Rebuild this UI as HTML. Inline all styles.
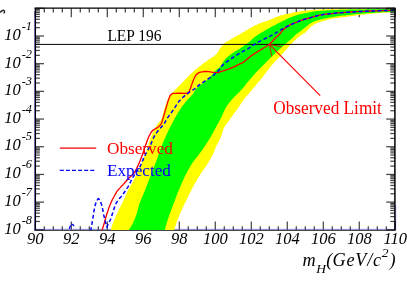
<!DOCTYPE html>
<html><head><meta charset="utf-8"><title>plot</title>
<style>
html,body{margin:0;padding:0;background:#fff;}
body{width:407px;height:285px;position:relative;overflow:hidden;}
#w{position:absolute;left:0;top:0;width:407px;height:285px;will-change:transform;}
svg{display:block}
text{font-family:"Liberation Serif",serif;}
</style></head><body>
<div id="w">
<svg width="407" height="285" viewBox="0 0 407 285">
<rect width="407" height="285" fill="#fff"/>
<line x1="35.30" y1="229.80" x2="35.30" y2="221.40" stroke="#000" stroke-width="1.25" opacity="0.72"/>
<line x1="35.30" y1="8.30" x2="35.30" y2="17.30" stroke="#000" stroke-width="1.25" opacity="0.72"/>
<line x1="44.30" y1="229.80" x2="44.30" y2="226.20" stroke="#000" stroke-width="1.25" opacity="0.72"/>
<line x1="44.30" y1="8.30" x2="44.30" y2="12.50" stroke="#000" stroke-width="1.25" opacity="0.72"/>
<line x1="53.30" y1="229.80" x2="53.30" y2="226.20" stroke="#000" stroke-width="1.25" opacity="0.72"/>
<line x1="53.30" y1="8.30" x2="53.30" y2="12.50" stroke="#000" stroke-width="1.25" opacity="0.72"/>
<line x1="62.30" y1="229.80" x2="62.30" y2="226.20" stroke="#000" stroke-width="1.25" opacity="0.72"/>
<line x1="62.30" y1="8.30" x2="62.30" y2="12.50" stroke="#000" stroke-width="1.25" opacity="0.72"/>
<line x1="71.30" y1="229.80" x2="71.30" y2="221.40" stroke="#000" stroke-width="1.25" opacity="0.72"/>
<line x1="71.30" y1="8.30" x2="71.30" y2="17.30" stroke="#000" stroke-width="1.25" opacity="0.72"/>
<line x1="80.30" y1="229.80" x2="80.30" y2="226.20" stroke="#000" stroke-width="1.25" opacity="0.72"/>
<line x1="80.30" y1="8.30" x2="80.30" y2="12.50" stroke="#000" stroke-width="1.25" opacity="0.72"/>
<line x1="89.30" y1="229.80" x2="89.30" y2="226.20" stroke="#000" stroke-width="1.25" opacity="0.72"/>
<line x1="89.30" y1="8.30" x2="89.30" y2="12.50" stroke="#000" stroke-width="1.25" opacity="0.72"/>
<line x1="98.30" y1="229.80" x2="98.30" y2="226.20" stroke="#000" stroke-width="1.25" opacity="0.72"/>
<line x1="98.30" y1="8.30" x2="98.30" y2="12.50" stroke="#000" stroke-width="1.25" opacity="0.72"/>
<line x1="107.30" y1="229.80" x2="107.30" y2="221.40" stroke="#000" stroke-width="1.25" opacity="0.72"/>
<line x1="107.30" y1="8.30" x2="107.30" y2="17.30" stroke="#000" stroke-width="1.25" opacity="0.72"/>
<line x1="116.30" y1="229.80" x2="116.30" y2="226.20" stroke="#000" stroke-width="1.25" opacity="0.72"/>
<line x1="116.30" y1="8.30" x2="116.30" y2="12.50" stroke="#000" stroke-width="1.25" opacity="0.72"/>
<line x1="125.30" y1="229.80" x2="125.30" y2="226.20" stroke="#000" stroke-width="1.25" opacity="0.72"/>
<line x1="125.30" y1="8.30" x2="125.30" y2="12.50" stroke="#000" stroke-width="1.25" opacity="0.72"/>
<line x1="134.30" y1="229.80" x2="134.30" y2="226.20" stroke="#000" stroke-width="1.25" opacity="0.72"/>
<line x1="134.30" y1="8.30" x2="134.30" y2="12.50" stroke="#000" stroke-width="1.25" opacity="0.72"/>
<line x1="143.30" y1="229.80" x2="143.30" y2="221.40" stroke="#000" stroke-width="1.25" opacity="0.72"/>
<line x1="143.30" y1="8.30" x2="143.30" y2="17.30" stroke="#000" stroke-width="1.25" opacity="0.72"/>
<line x1="152.30" y1="229.80" x2="152.30" y2="226.20" stroke="#000" stroke-width="1.25" opacity="0.72"/>
<line x1="152.30" y1="8.30" x2="152.30" y2="12.50" stroke="#000" stroke-width="1.25" opacity="0.72"/>
<line x1="161.30" y1="229.80" x2="161.30" y2="226.20" stroke="#000" stroke-width="1.25" opacity="0.72"/>
<line x1="161.30" y1="8.30" x2="161.30" y2="12.50" stroke="#000" stroke-width="1.25" opacity="0.72"/>
<line x1="170.30" y1="229.80" x2="170.30" y2="226.20" stroke="#000" stroke-width="1.25" opacity="0.72"/>
<line x1="170.30" y1="8.30" x2="170.30" y2="12.50" stroke="#000" stroke-width="1.25" opacity="0.72"/>
<line x1="179.30" y1="229.80" x2="179.30" y2="221.40" stroke="#000" stroke-width="1.25" opacity="0.72"/>
<line x1="179.30" y1="8.30" x2="179.30" y2="17.30" stroke="#000" stroke-width="1.25" opacity="0.72"/>
<line x1="188.30" y1="229.80" x2="188.30" y2="226.20" stroke="#000" stroke-width="1.25" opacity="0.72"/>
<line x1="188.30" y1="8.30" x2="188.30" y2="12.50" stroke="#000" stroke-width="1.25" opacity="0.72"/>
<line x1="197.30" y1="229.80" x2="197.30" y2="226.20" stroke="#000" stroke-width="1.25" opacity="0.72"/>
<line x1="197.30" y1="8.30" x2="197.30" y2="12.50" stroke="#000" stroke-width="1.25" opacity="0.72"/>
<line x1="206.30" y1="229.80" x2="206.30" y2="226.20" stroke="#000" stroke-width="1.25" opacity="0.72"/>
<line x1="206.30" y1="8.30" x2="206.30" y2="12.50" stroke="#000" stroke-width="1.25" opacity="0.72"/>
<line x1="215.30" y1="229.80" x2="215.30" y2="221.40" stroke="#000" stroke-width="1.25" opacity="0.72"/>
<line x1="215.30" y1="8.30" x2="215.30" y2="17.30" stroke="#000" stroke-width="1.25" opacity="0.72"/>
<line x1="224.30" y1="229.80" x2="224.30" y2="226.20" stroke="#000" stroke-width="1.25" opacity="0.72"/>
<line x1="224.30" y1="8.30" x2="224.30" y2="12.50" stroke="#000" stroke-width="1.25" opacity="0.72"/>
<line x1="233.30" y1="229.80" x2="233.30" y2="226.20" stroke="#000" stroke-width="1.25" opacity="0.72"/>
<line x1="233.30" y1="8.30" x2="233.30" y2="12.50" stroke="#000" stroke-width="1.25" opacity="0.72"/>
<line x1="242.30" y1="229.80" x2="242.30" y2="226.20" stroke="#000" stroke-width="1.25" opacity="0.72"/>
<line x1="242.30" y1="8.30" x2="242.30" y2="12.50" stroke="#000" stroke-width="1.25" opacity="0.72"/>
<line x1="251.30" y1="229.80" x2="251.30" y2="221.40" stroke="#000" stroke-width="1.25" opacity="0.72"/>
<line x1="251.30" y1="8.30" x2="251.30" y2="17.30" stroke="#000" stroke-width="1.25" opacity="0.72"/>
<line x1="260.30" y1="229.80" x2="260.30" y2="226.20" stroke="#000" stroke-width="1.25" opacity="0.72"/>
<line x1="260.30" y1="8.30" x2="260.30" y2="12.50" stroke="#000" stroke-width="1.25" opacity="0.72"/>
<line x1="269.30" y1="229.80" x2="269.30" y2="226.20" stroke="#000" stroke-width="1.25" opacity="0.72"/>
<line x1="269.30" y1="8.30" x2="269.30" y2="12.50" stroke="#000" stroke-width="1.25" opacity="0.72"/>
<line x1="278.30" y1="229.80" x2="278.30" y2="226.20" stroke="#000" stroke-width="1.25" opacity="0.72"/>
<line x1="278.30" y1="8.30" x2="278.30" y2="12.50" stroke="#000" stroke-width="1.25" opacity="0.72"/>
<line x1="287.30" y1="229.80" x2="287.30" y2="221.40" stroke="#000" stroke-width="1.25" opacity="0.72"/>
<line x1="287.30" y1="8.30" x2="287.30" y2="17.30" stroke="#000" stroke-width="1.25" opacity="0.72"/>
<line x1="296.30" y1="229.80" x2="296.30" y2="226.20" stroke="#000" stroke-width="1.25" opacity="0.72"/>
<line x1="296.30" y1="8.30" x2="296.30" y2="12.50" stroke="#000" stroke-width="1.25" opacity="0.72"/>
<line x1="305.30" y1="229.80" x2="305.30" y2="226.20" stroke="#000" stroke-width="1.25" opacity="0.72"/>
<line x1="305.30" y1="8.30" x2="305.30" y2="12.50" stroke="#000" stroke-width="1.25" opacity="0.72"/>
<line x1="314.30" y1="229.80" x2="314.30" y2="226.20" stroke="#000" stroke-width="1.25" opacity="0.72"/>
<line x1="314.30" y1="8.30" x2="314.30" y2="12.50" stroke="#000" stroke-width="1.25" opacity="0.72"/>
<line x1="323.30" y1="229.80" x2="323.30" y2="221.40" stroke="#000" stroke-width="1.25" opacity="0.72"/>
<line x1="323.30" y1="8.30" x2="323.30" y2="17.30" stroke="#000" stroke-width="1.25" opacity="0.72"/>
<line x1="332.30" y1="229.80" x2="332.30" y2="226.20" stroke="#000" stroke-width="1.25" opacity="0.72"/>
<line x1="332.30" y1="8.30" x2="332.30" y2="12.50" stroke="#000" stroke-width="1.25" opacity="0.72"/>
<line x1="341.30" y1="229.80" x2="341.30" y2="226.20" stroke="#000" stroke-width="1.25" opacity="0.72"/>
<line x1="341.30" y1="8.30" x2="341.30" y2="12.50" stroke="#000" stroke-width="1.25" opacity="0.72"/>
<line x1="350.30" y1="229.80" x2="350.30" y2="226.20" stroke="#000" stroke-width="1.25" opacity="0.72"/>
<line x1="350.30" y1="8.30" x2="350.30" y2="12.50" stroke="#000" stroke-width="1.25" opacity="0.72"/>
<line x1="359.30" y1="229.80" x2="359.30" y2="221.40" stroke="#000" stroke-width="1.25" opacity="0.72"/>
<line x1="359.30" y1="8.30" x2="359.30" y2="17.30" stroke="#000" stroke-width="1.25" opacity="0.72"/>
<line x1="368.30" y1="229.80" x2="368.30" y2="226.20" stroke="#000" stroke-width="1.25" opacity="0.72"/>
<line x1="368.30" y1="8.30" x2="368.30" y2="12.50" stroke="#000" stroke-width="1.25" opacity="0.72"/>
<line x1="377.30" y1="229.80" x2="377.30" y2="226.20" stroke="#000" stroke-width="1.25" opacity="0.72"/>
<line x1="377.30" y1="8.30" x2="377.30" y2="12.50" stroke="#000" stroke-width="1.25" opacity="0.72"/>
<line x1="386.30" y1="229.80" x2="386.30" y2="226.20" stroke="#000" stroke-width="1.25" opacity="0.72"/>
<line x1="386.30" y1="8.30" x2="386.30" y2="12.50" stroke="#000" stroke-width="1.25" opacity="0.72"/>
<line x1="395.30" y1="229.80" x2="395.30" y2="221.40" stroke="#000" stroke-width="1.25" opacity="0.72"/>
<line x1="395.30" y1="8.30" x2="395.30" y2="17.30" stroke="#000" stroke-width="1.25" opacity="0.72"/>
<line x1="35.40" y1="8.30" x2="44.00" y2="8.30" stroke="#000" stroke-width="1.25" opacity="0.72"/>
<line x1="35.40" y1="27.65" x2="39.90" y2="27.65" stroke="#000" stroke-width="1.25" opacity="0.72"/>
<line x1="35.40" y1="22.78" x2="39.90" y2="22.78" stroke="#000" stroke-width="1.25" opacity="0.72"/>
<line x1="35.40" y1="19.32" x2="39.90" y2="19.32" stroke="#000" stroke-width="1.25" opacity="0.72"/>
<line x1="35.40" y1="16.63" x2="39.90" y2="16.63" stroke="#000" stroke-width="1.25" opacity="0.72"/>
<line x1="35.40" y1="14.44" x2="39.90" y2="14.44" stroke="#000" stroke-width="1.25" opacity="0.72"/>
<line x1="35.40" y1="12.59" x2="39.90" y2="12.59" stroke="#000" stroke-width="1.25" opacity="0.72"/>
<line x1="35.40" y1="10.98" x2="39.90" y2="10.98" stroke="#000" stroke-width="1.25" opacity="0.72"/>
<line x1="35.40" y1="9.57" x2="39.90" y2="9.57" stroke="#000" stroke-width="1.25" opacity="0.72"/>
<line x1="35.40" y1="35.99" x2="44.00" y2="35.99" stroke="#000" stroke-width="1.25" opacity="0.72"/>
<line x1="35.40" y1="55.34" x2="39.90" y2="55.34" stroke="#000" stroke-width="1.25" opacity="0.72"/>
<line x1="35.40" y1="50.46" x2="39.90" y2="50.46" stroke="#000" stroke-width="1.25" opacity="0.72"/>
<line x1="35.40" y1="47.01" x2="39.90" y2="47.01" stroke="#000" stroke-width="1.25" opacity="0.72"/>
<line x1="35.40" y1="44.32" x2="39.90" y2="44.32" stroke="#000" stroke-width="1.25" opacity="0.72"/>
<line x1="35.40" y1="42.13" x2="39.90" y2="42.13" stroke="#000" stroke-width="1.25" opacity="0.72"/>
<line x1="35.40" y1="40.28" x2="39.90" y2="40.28" stroke="#000" stroke-width="1.25" opacity="0.72"/>
<line x1="35.40" y1="38.67" x2="39.90" y2="38.67" stroke="#000" stroke-width="1.25" opacity="0.72"/>
<line x1="35.40" y1="37.25" x2="39.90" y2="37.25" stroke="#000" stroke-width="1.25" opacity="0.72"/>
<line x1="35.40" y1="63.67" x2="44.00" y2="63.67" stroke="#000" stroke-width="1.25" opacity="0.72"/>
<line x1="35.40" y1="83.03" x2="39.90" y2="83.03" stroke="#000" stroke-width="1.25" opacity="0.72"/>
<line x1="35.40" y1="78.15" x2="39.90" y2="78.15" stroke="#000" stroke-width="1.25" opacity="0.72"/>
<line x1="35.40" y1="74.69" x2="39.90" y2="74.69" stroke="#000" stroke-width="1.25" opacity="0.72"/>
<line x1="35.40" y1="72.01" x2="39.90" y2="72.01" stroke="#000" stroke-width="1.25" opacity="0.72"/>
<line x1="35.40" y1="69.82" x2="39.90" y2="69.82" stroke="#000" stroke-width="1.25" opacity="0.72"/>
<line x1="35.40" y1="67.96" x2="39.90" y2="67.96" stroke="#000" stroke-width="1.25" opacity="0.72"/>
<line x1="35.40" y1="66.36" x2="39.90" y2="66.36" stroke="#000" stroke-width="1.25" opacity="0.72"/>
<line x1="35.40" y1="64.94" x2="39.90" y2="64.94" stroke="#000" stroke-width="1.25" opacity="0.72"/>
<line x1="35.40" y1="91.36" x2="44.00" y2="91.36" stroke="#000" stroke-width="1.25" opacity="0.72"/>
<line x1="35.40" y1="110.72" x2="39.90" y2="110.72" stroke="#000" stroke-width="1.25" opacity="0.72"/>
<line x1="35.40" y1="105.84" x2="39.90" y2="105.84" stroke="#000" stroke-width="1.25" opacity="0.72"/>
<line x1="35.40" y1="102.38" x2="39.90" y2="102.38" stroke="#000" stroke-width="1.25" opacity="0.72"/>
<line x1="35.40" y1="99.70" x2="39.90" y2="99.70" stroke="#000" stroke-width="1.25" opacity="0.72"/>
<line x1="35.40" y1="97.50" x2="39.90" y2="97.50" stroke="#000" stroke-width="1.25" opacity="0.72"/>
<line x1="35.40" y1="95.65" x2="39.90" y2="95.65" stroke="#000" stroke-width="1.25" opacity="0.72"/>
<line x1="35.40" y1="94.05" x2="39.90" y2="94.05" stroke="#000" stroke-width="1.25" opacity="0.72"/>
<line x1="35.40" y1="92.63" x2="39.90" y2="92.63" stroke="#000" stroke-width="1.25" opacity="0.72"/>
<line x1="35.40" y1="119.05" x2="44.00" y2="119.05" stroke="#000" stroke-width="1.25" opacity="0.72"/>
<line x1="35.40" y1="138.40" x2="39.90" y2="138.40" stroke="#000" stroke-width="1.25" opacity="0.72"/>
<line x1="35.40" y1="133.53" x2="39.90" y2="133.53" stroke="#000" stroke-width="1.25" opacity="0.72"/>
<line x1="35.40" y1="130.07" x2="39.90" y2="130.07" stroke="#000" stroke-width="1.25" opacity="0.72"/>
<line x1="35.40" y1="127.38" x2="39.90" y2="127.38" stroke="#000" stroke-width="1.25" opacity="0.72"/>
<line x1="35.40" y1="125.19" x2="39.90" y2="125.19" stroke="#000" stroke-width="1.25" opacity="0.72"/>
<line x1="35.40" y1="123.34" x2="39.90" y2="123.34" stroke="#000" stroke-width="1.25" opacity="0.72"/>
<line x1="35.40" y1="121.73" x2="39.90" y2="121.73" stroke="#000" stroke-width="1.25" opacity="0.72"/>
<line x1="35.40" y1="120.32" x2="39.90" y2="120.32" stroke="#000" stroke-width="1.25" opacity="0.72"/>
<line x1="35.40" y1="146.74" x2="44.00" y2="146.74" stroke="#000" stroke-width="1.25" opacity="0.72"/>
<line x1="35.40" y1="166.09" x2="39.90" y2="166.09" stroke="#000" stroke-width="1.25" opacity="0.72"/>
<line x1="35.40" y1="161.21" x2="39.90" y2="161.21" stroke="#000" stroke-width="1.25" opacity="0.72"/>
<line x1="35.40" y1="157.76" x2="39.90" y2="157.76" stroke="#000" stroke-width="1.25" opacity="0.72"/>
<line x1="35.40" y1="155.07" x2="39.90" y2="155.07" stroke="#000" stroke-width="1.25" opacity="0.72"/>
<line x1="35.40" y1="152.88" x2="39.90" y2="152.88" stroke="#000" stroke-width="1.25" opacity="0.72"/>
<line x1="35.40" y1="151.03" x2="39.90" y2="151.03" stroke="#000" stroke-width="1.25" opacity="0.72"/>
<line x1="35.40" y1="149.42" x2="39.90" y2="149.42" stroke="#000" stroke-width="1.25" opacity="0.72"/>
<line x1="35.40" y1="148.00" x2="39.90" y2="148.00" stroke="#000" stroke-width="1.25" opacity="0.72"/>
<line x1="35.40" y1="174.43" x2="44.00" y2="174.43" stroke="#000" stroke-width="1.25" opacity="0.72"/>
<line x1="35.40" y1="193.78" x2="39.90" y2="193.78" stroke="#000" stroke-width="1.25" opacity="0.72"/>
<line x1="35.40" y1="188.90" x2="39.90" y2="188.90" stroke="#000" stroke-width="1.25" opacity="0.72"/>
<line x1="35.40" y1="185.44" x2="39.90" y2="185.44" stroke="#000" stroke-width="1.25" opacity="0.72"/>
<line x1="35.40" y1="182.76" x2="39.90" y2="182.76" stroke="#000" stroke-width="1.25" opacity="0.72"/>
<line x1="35.40" y1="180.57" x2="39.90" y2="180.57" stroke="#000" stroke-width="1.25" opacity="0.72"/>
<line x1="35.40" y1="178.71" x2="39.90" y2="178.71" stroke="#000" stroke-width="1.25" opacity="0.72"/>
<line x1="35.40" y1="177.11" x2="39.90" y2="177.11" stroke="#000" stroke-width="1.25" opacity="0.72"/>
<line x1="35.40" y1="175.69" x2="39.90" y2="175.69" stroke="#000" stroke-width="1.25" opacity="0.72"/>
<line x1="35.40" y1="202.11" x2="44.00" y2="202.11" stroke="#000" stroke-width="1.25" opacity="0.72"/>
<line x1="35.40" y1="221.47" x2="39.90" y2="221.47" stroke="#000" stroke-width="1.25" opacity="0.72"/>
<line x1="35.40" y1="216.59" x2="39.90" y2="216.59" stroke="#000" stroke-width="1.25" opacity="0.72"/>
<line x1="35.40" y1="213.13" x2="39.90" y2="213.13" stroke="#000" stroke-width="1.25" opacity="0.72"/>
<line x1="35.40" y1="210.45" x2="39.90" y2="210.45" stroke="#000" stroke-width="1.25" opacity="0.72"/>
<line x1="35.40" y1="208.25" x2="39.90" y2="208.25" stroke="#000" stroke-width="1.25" opacity="0.72"/>
<line x1="35.40" y1="206.40" x2="39.90" y2="206.40" stroke="#000" stroke-width="1.25" opacity="0.72"/>
<line x1="35.40" y1="204.80" x2="39.90" y2="204.80" stroke="#000" stroke-width="1.25" opacity="0.72"/>
<line x1="35.40" y1="203.38" x2="39.90" y2="203.38" stroke="#000" stroke-width="1.25" opacity="0.72"/>
<line x1="35.40" y1="229.80" x2="44.00" y2="229.80" stroke="#000" stroke-width="1.25" opacity="0.72"/>
<line x1="34.70" y1="11.00" x2="34.70" y2="230.00" stroke="#202088" stroke-width="0.8"/>
<line x1="34.50" y1="229.30" x2="396.00" y2="229.30" stroke="#0000ff" stroke-width="0.9" opacity="0.4"/>
<line x1="395.70" y1="205.00" x2="395.70" y2="230.00" stroke="#0000ff" stroke-width="1.0" opacity="0.4"/>
<line x1="34.40" y1="230.30" x2="395.60" y2="230.30" stroke="#000" stroke-width="1.25" opacity="0.72"/>
<line x1="35.50" y1="8.00" x2="35.50" y2="230.30" stroke="#000" stroke-width="1.1"/>
<polygon points="110.7,229.9 111.3,228.0 111.9,226.1 112.6,224.2 113.3,222.3 113.4,222.0 114.0,220.5 114.8,218.7 115.6,216.8 115.7,216.7 116.4,215.0 117.3,213.2 118.1,211.4 118.4,210.7 118.9,209.6 119.9,207.8 120.8,206.0 121.7,204.3 122.3,203.0 122.6,202.5 123.4,200.6 124.2,198.8 125.0,197.0 125.8,195.2 126.6,193.3 127.5,191.5 128.0,190.5 128.4,189.8 129.3,188.0 130.3,186.3 131.3,184.6 132.3,182.8 133.3,181.1 133.3,181.0 134.2,179.3 135.0,177.5 135.9,175.7 136.7,173.9 137.6,172.1 138.4,170.2 138.5,170.0 139.2,168.4 140.1,166.6 140.9,164.8 141.7,163.0 142.5,161.2 143.0,160.0 143.3,159.3 144.0,157.5 144.7,155.6 145.4,153.7 146.1,151.8 146.7,149.9 147.4,148.1 147.4,148.0 148.0,146.2 148.6,144.2 149.1,142.3 149.7,140.4 150.0,139.7 150.4,138.6 151.1,136.7 151.8,134.8 152.6,133.0 153.4,131.1 154.0,130.0 154.3,129.4 155.3,127.7 156.4,126.0 157.5,124.3 158.7,122.7 159.2,122.0 160.0,121.1 160.9,120.0 161.1,119.6 161.9,117.8 162.5,115.9 163.0,114.0 163.5,112.0 164.1,110.0 164.5,108.7 164.7,108.1 165.3,106.2 165.9,104.3 166.6,102.4 167.3,100.5 168.0,99.0 168.1,98.7 169.1,97.0 170.3,95.4 171.5,93.8 172.8,92.2 173.0,92.0 174.1,90.8 175.5,89.4 177.0,88.0 178.4,86.6 179.9,85.2 180.0,85.1 181.3,83.8 182.6,82.3 184.0,80.9 185.3,79.4 186.7,77.9 188.1,76.5 189.5,75.1 189.8,74.8 190.9,73.7 192.4,72.4 193.9,71.1 195.4,69.8 197.0,68.5 198.5,67.2 200.1,66.0 201.6,64.7 202.6,64.0 203.2,63.5 204.8,62.3 206.5,61.2 208.1,60.0 209.7,58.9 210.0,58.7 211.4,57.8 213.2,56.7 214.8,55.6 215.9,54.7 216.2,54.3 217.4,52.7 218.4,51.0 219.5,49.3 219.8,48.8 220.7,47.6 221.9,46.0 223.1,44.4 224.5,43.1 224.7,42.9 226.1,41.9 227.9,41.0 229.7,40.0 229.7,40.0 231.4,39.0 233.1,38.1 234.9,37.1 236.6,36.1 238.4,35.1 240.0,34.2 240.1,34.1 241.8,33.1 243.5,32.1 245.2,31.0 246.9,30.0 248.6,29.0 249.8,28.3 250.4,28.0 252.1,27.0 253.9,26.1 255.7,25.2 257.5,24.4 259.3,23.6 259.7,23.4 261.2,22.8 263.0,22.1 264.9,21.5 266.8,20.9 268.7,20.2 269.5,19.9 270.6,19.5 272.4,18.7 274.3,17.9 276.1,17.1 278.0,16.4 279.8,15.8 279.8,15.8 281.8,15.2 283.7,14.7 285.6,14.3 287.6,13.8 287.7,13.8 289.5,13.4 291.5,12.9 293.4,12.5 295.4,12.1 296.5,11.9 297.3,11.8 299.3,11.4 301.3,11.1 303.3,10.8 305.2,10.6 305.2,10.6 307.2,10.4 309.2,10.2 311.2,10.0 313.2,9.9 314.8,9.8 315.2,9.8 317.2,9.7 319.2,9.6 321.2,9.5 323.2,9.4 324.7,9.4 325.2,9.4 327.1,9.3 329.1,9.3 331.1,9.3 333.1,9.2 335.1,9.2 337.1,9.2 339.1,9.2 341.1,9.1 343.1,9.1 345.0,9.1 345.1,9.1 347.1,9.1 349.1,9.1 351.1,9.0 353.1,9.0 355.1,9.0 357.1,9.0 359.1,9.0 361.1,9.0 363.1,8.9 365.1,8.9 367.1,8.9 369.1,8.9 370.0,8.9 371.1,8.9 373.0,8.9 375.0,8.9 377.0,8.9 379.0,8.9 381.0,8.8 383.0,8.8 385.0,8.8 387.0,8.8 389.0,8.8 391.0,8.8 393.0,8.8 395.0,8.8 395.0,12.1 393.0,12.2 391.0,12.3 389.0,12.4 387.0,12.6 386.3,12.6 385.0,12.7 383.0,12.8 381.0,12.9 379.0,13.1 377.0,13.2 375.0,13.4 373.1,13.6 372.5,13.6 371.1,13.7 369.1,13.9 367.1,14.1 365.1,14.4 363.1,14.6 361.1,14.8 359.1,15.1 358.8,15.1 357.2,15.3 355.2,15.6 353.2,15.9 351.2,16.1 349.2,16.4 347.2,16.7 345.3,17.0 345.0,17.0 343.3,17.2 341.3,17.4 339.3,17.7 337.3,17.9 335.3,18.2 334.5,18.3 333.4,18.5 331.4,18.9 329.5,19.3 327.5,19.8 325.6,20.4 324.7,20.6 323.7,20.9 321.7,21.5 319.8,22.1 317.9,22.8 316.1,23.5 314.8,24.1 314.3,24.4 312.6,25.4 311.0,26.7 309.9,27.6 309.5,28.0 308.2,29.5 306.9,31.1 306.0,32.0 305.5,32.4 303.9,33.6 302.1,34.6 300.4,35.7 300.0,36.0 298.8,36.9 297.3,38.1 296.4,38.9 295.8,39.5 294.3,40.8 292.9,42.2 291.5,43.7 290.1,45.1 289.5,45.8 288.8,46.6 287.4,48.1 286.2,49.6 284.9,51.1 283.5,52.7 282.6,53.7 282.2,54.1 280.8,55.6 279.4,57.0 278.0,58.4 276.6,59.8 275.2,61.3 274.5,62.0 273.8,62.7 272.6,64.3 271.3,65.8 270.1,67.4 268.8,69.0 267.6,70.5 267.4,70.8 266.4,72.1 265.2,73.7 264.0,75.3 262.8,76.9 261.5,78.5 260.6,79.7 260.3,80.1 259.0,81.6 257.7,83.1 256.4,84.6 255.1,86.2 253.8,87.7 252.5,89.2 251.8,90.0 251.2,90.7 249.9,92.2 248.6,93.8 247.3,95.3 246.0,96.8 244.8,98.4 244.5,98.8 243.6,100.0 242.5,101.6 241.3,103.3 240.2,104.9 239.1,106.6 237.9,108.2 237.6,108.7 236.8,109.9 235.6,111.5 234.4,113.1 233.2,114.7 232.0,116.3 230.9,117.9 230.8,118.0 229.7,119.5 228.4,121.2 227.2,122.8 226.1,124.4 225.0,126.1 224.1,127.8 224.1,127.8 223.3,129.6 222.7,131.5 222.1,133.5 221.5,135.4 220.8,137.3 220.6,137.7 220.0,139.1 219.0,140.9 218.1,142.6 217.1,144.4 216.3,146.0 216.2,146.2 215.5,148.0 214.7,149.9 214.0,151.7 213.5,152.9 213.2,153.6 212.3,155.4 211.4,157.1 210.4,158.9 209.4,160.6 208.4,162.4 207.6,163.7 207.4,164.1 206.3,165.7 205.2,167.4 204.0,169.0 202.8,170.7 201.7,172.3 200.6,174.0 200.6,174.0 199.6,175.7 198.5,177.4 197.5,179.1 196.5,180.8 195.5,182.6 194.5,184.3 193.5,186.1 192.6,187.8 192.6,187.8 191.7,189.6 190.7,191.4 189.8,193.1 188.9,194.9 188.1,196.7 187.2,198.5 186.3,200.3 185.5,202.0 185.4,202.1 184.6,203.9 183.7,205.7 182.8,207.5 182.0,209.3 181.2,211.2 180.4,213.0 179.6,214.8 179.6,214.8 178.8,216.7 178.1,218.5 177.4,220.4 176.7,222.3 176.1,224.2 175.4,226.1 174.8,228.0 174.2,229.9" fill="#ffff00"/>
<polygon points="128.9,229.9 130.0,228.2 131.0,226.5 132.0,224.7 132.9,222.9 133.8,221.1 134.6,219.3 135.3,217.5 136.0,215.8 136.0,215.7 136.7,213.8 137.2,211.9 137.7,209.9 138.2,208.0 138.8,206.1 139.3,204.2 139.4,204.0 140.0,202.3 140.7,200.5 141.5,198.6 142.3,196.8 143.1,194.9 143.8,193.1 144.0,192.7 144.6,191.3 145.3,189.4 146.0,187.5 146.8,185.7 147.5,183.8 148.2,182.0 148.9,180.1 149.6,178.3 150.3,176.4 150.5,176.0 151.1,174.5 151.8,172.7 152.5,170.8 153.3,169.0 154.0,167.1 154.7,165.3 155.4,163.4 156.1,161.6 156.4,160.8 156.8,159.7 157.5,157.8 158.1,155.9 158.8,154.0 159.4,152.1 160.1,150.3 160.7,148.4 160.9,148.0 161.5,146.5 162.2,144.7 162.9,142.9 163.7,141.0 164.5,139.2 165.3,137.4 166.1,135.5 166.5,134.7 166.9,133.7 167.8,131.9 168.7,130.1 169.5,128.3 170.4,126.6 171.3,124.8 172.3,123.0 173.2,121.3 173.9,120.0 174.2,119.5 175.1,117.8 176.1,116.0 177.1,114.3 178.1,112.6 179.2,110.9 180.2,109.2 180.6,108.7 181.4,107.6 182.5,106.0 183.7,104.4 185.0,102.8 186.2,101.3 187.4,99.9 187.5,99.8 188.9,98.3 190.3,96.9 191.6,95.4 192.8,94.0 192.9,93.9 193.9,92.2 194.9,90.4 195.5,89.6 196.1,88.9 197.5,87.5 198.9,86.2 200.5,85.0 202.1,83.8 203.8,82.6 205.4,81.3 207.0,80.1 208.5,78.7 208.5,78.7 209.8,77.3 211.1,75.8 212.4,74.2 213.6,72.6 215.0,71.1 216.3,69.7 217.3,68.9 217.9,68.5 219.5,67.5 219.6,67.4 220.8,66.0 221.9,64.3 222.8,62.5 223.9,60.7 224.7,59.7 225.1,59.2 226.5,57.9 228.0,56.6 229.6,55.3 231.3,54.1 232.9,53.0 234.6,51.8 234.6,51.8 236.2,50.7 237.9,49.7 239.6,48.7 241.3,47.6 242.4,46.9 243.0,46.5 244.6,45.3 246.0,44.3 246.2,44.2 247.8,43.0 249.4,41.7 250.0,41.2 250.9,40.4 252.3,39.1 253.8,37.7 254.7,37.0 255.4,36.5 257.0,35.4 258.6,34.3 260.3,33.2 262.1,32.2 263.8,31.2 264.6,30.7 265.5,30.2 267.2,29.2 268.9,28.2 270.7,27.2 272.0,26.5 272.4,26.3 274.2,25.4 276.0,24.5 277.8,23.6 279.6,22.7 280.0,22.5 281.4,21.8 283.1,20.9 284.9,20.0 286.7,19.1 288.5,18.3 289.7,17.8 290.3,17.5 292.2,16.8 294.0,16.0 295.9,15.4 297.8,14.7 299.5,14.3 299.7,14.2 301.7,13.9 303.7,13.5 305.0,13.3 305.6,13.2 307.6,12.8 309.5,12.3 311.5,11.9 313.4,11.6 314.8,11.4 315.4,11.3 317.4,11.1 319.4,11.0 321.3,10.8 323.3,10.7 324.7,10.6 325.3,10.6 327.3,10.4 329.3,10.3 331.3,10.2 333.3,10.1 334.5,10.0 335.3,10.0 337.3,9.9 339.2,9.8 341.2,9.8 343.2,9.7 345.0,9.7 345.2,9.7 347.2,9.7 349.2,9.6 351.2,9.6 353.2,9.5 355.2,9.5 357.2,9.5 359.2,9.5 361.1,9.4 363.1,9.4 365.1,9.4 367.1,9.3 369.1,9.3 370.0,9.3 371.1,9.3 373.1,9.3 375.1,9.2 377.1,9.2 379.1,9.2 381.1,9.2 383.1,9.1 385.0,9.1 387.0,9.1 389.0,9.1 391.0,9.0 393.0,9.0 395.0,9.0 395.0,11.6 393.0,11.7 391.0,11.8 389.0,11.9 387.0,12.0 386.3,12.0 385.0,12.1 383.0,12.2 381.1,12.3 379.1,12.4 377.1,12.6 375.1,12.7 373.1,12.9 372.5,12.9 371.1,13.0 369.1,13.1 367.1,13.3 365.1,13.5 363.2,13.6 361.2,13.8 359.2,14.0 358.8,14.0 357.2,14.1 355.2,14.3 353.2,14.5 351.2,14.7 349.3,14.9 347.3,15.1 345.3,15.4 345.0,15.4 343.3,15.6 341.3,15.8 339.3,16.0 337.4,16.3 335.4,16.6 334.5,16.7 333.4,16.9 331.5,17.2 329.5,17.6 327.5,18.0 325.6,18.4 324.7,18.6 323.6,18.8 321.7,19.3 319.7,19.7 317.8,20.2 315.9,20.8 314.8,21.2 314.0,21.5 312.2,22.4 310.5,23.3 309.9,23.7 308.8,24.4 307.3,25.7 305.7,27.0 304.7,27.8 304.2,28.2 302.6,29.5 301.1,30.8 299.5,32.0 299.5,32.0 297.8,33.0 296.4,34.0 296.2,34.2 294.7,35.5 293.4,37.0 292.4,37.9 291.9,38.3 290.4,39.7 288.9,41.0 287.4,42.3 285.9,43.6 284.6,44.8 284.4,44.9 282.9,46.3 281.4,47.6 280.0,48.9 278.5,50.2 277.0,51.6 275.5,52.9 274.7,53.7 274.1,54.3 272.6,55.7 271.2,57.1 269.8,58.5 268.4,59.9 267.0,61.4 266.4,62.0 265.6,62.8 264.2,64.2 262.8,65.6 261.4,67.0 259.9,68.4 258.5,69.8 257.6,70.8 257.2,71.3 255.8,72.7 254.5,74.2 253.2,75.7 251.9,77.2 250.6,78.7 249.7,79.7 249.3,80.2 248.0,81.8 246.7,83.3 245.5,84.9 244.2,86.4 243.0,88.0 241.7,89.5 241.2,90.0 240.3,91.0 238.9,92.4 237.5,93.8 236.1,95.2 234.7,96.6 233.3,98.1 232.7,98.8 232.0,99.6 230.7,101.1 229.4,102.6 228.2,104.2 227.0,105.8 225.9,107.5 225.8,107.7 225.0,109.2 224.1,111.0 223.3,112.8 222.5,114.7 221.7,116.5 221.0,118.0 220.8,118.3 219.9,120.1 219.0,121.8 218.0,123.6 217.0,125.3 216.2,126.8 216.1,127.1 215.1,128.8 214.2,130.6 213.2,132.3 212.3,134.1 211.3,135.8 210.8,136.7 210.3,137.5 209.3,139.3 208.2,141.0 207.2,142.6 206.1,144.3 205.0,146.0 205.0,146.0 203.9,147.6 202.7,149.3 201.6,150.9 200.4,152.5 199.2,154.1 198.7,154.8 198.0,155.7 196.8,157.3 195.5,158.8 194.3,160.4 193.1,162.0 192.0,163.6 191.9,163.7 190.9,165.3 189.9,167.0 188.9,168.7 187.9,170.5 187.0,172.3 186.1,174.0 186.1,174.0 185.2,175.8 184.3,177.6 183.5,179.4 182.6,181.2 181.8,183.1 181.0,184.9 180.3,186.7 179.8,187.8 179.5,188.6 178.7,190.4 178.0,192.3 177.2,194.1 176.5,196.0 175.8,197.8 175.1,199.7 174.4,201.6 174.2,202.0 173.7,203.4 172.9,205.3 172.2,207.2 171.5,209.0 170.8,210.9 170.2,212.8 169.5,214.7 168.9,216.5 168.8,216.7 168.2,218.4 167.6,220.3 167.0,222.2 166.5,224.1 165.9,226.1 165.3,228.0 164.8,229.9" fill="#00ff00"/>
<line x1="35.30" y1="44.40" x2="394.90" y2="44.40" stroke="#000" stroke-width="1.0"/>
<path d="M102.1 230.0 L102.7 228.1 L103.3 226.2 L103.9 224.3 L104.5 222.4 L104.6 222.0 L105.0 220.5 L105.5 218.5 L106.1 216.6 L106.3 215.8 L106.6 214.7 L107.2 212.8 L107.6 211.7 L107.9 210.9 L108.5 209.0 L109.2 207.1 L109.9 205.3 L110.4 204.0 L110.6 203.4 L111.5 201.6 L112.3 199.8 L113.2 198.0 L113.5 197.5 L114.2 196.2 L115.1 194.5 L116.1 192.8 L116.8 191.7 L117.2 191.1 L118.4 189.6 L119.8 188.1 L121.1 186.6 L122.5 185.2 L123.7 183.9 L123.9 183.7 L125.2 182.2 L126.5 180.7 L127.9 179.2 L129.2 177.8 L130.0 177.0 L130.7 176.4 L132.3 175.1 L132.8 174.5 L133.5 173.6 L134.6 172.0 L135.6 170.4 L136.5 168.7 L137.4 166.9 L138.3 165.0 L139.1 163.1 L139.9 161.2 L140.6 159.3 L141.4 157.4 L142.1 155.5 L142.7 153.9 L142.8 153.7 L143.4 151.8 L144.0 149.9 L144.6 148.0 L145.2 146.1 L145.4 145.6 L145.9 144.2 L146.6 142.3 L147.3 140.4 L148.0 138.5 L148.8 136.7 L149.7 134.9 L149.8 134.7 L150.6 133.2 L151.8 131.5 L152.8 130.3 L153.1 130.1 L154.8 129.0 L156.6 128.1 L157.7 127.4 L158.2 127.0 L159.8 125.6 L161.0 124.1 L161.1 123.9 L161.8 122.3 L162.4 120.4 L162.5 120.0 L163.0 118.4 L163.6 116.5 L164.1 114.6 L164.7 112.7 L165.2 110.8 L165.8 108.9 L165.8 108.7 L166.3 106.9 L166.9 105.0 L167.4 103.1 L168.0 101.2 L168.7 99.3 L168.8 98.9 L169.3 97.4 L170.1 95.6 L170.2 95.4 L171.5 94.1 L172.7 93.5 L173.3 93.4 L175.2 93.3 L177.3 93.2 L179.3 93.2 L179.6 93.2 L181.4 93.2 L183.5 93.3 L185.5 93.4 L187.3 93.5 L187.4 93.5 L188.7 92.1 L188.8 92.0 L189.6 90.5 L190.4 88.6 L191.0 86.7 L191.7 84.8 L192.3 82.9 L192.8 81.7 L193.1 81.0 L193.9 79.1 L194.7 77.2 L195.7 75.5 L196.2 74.8 L196.9 74.1 L198.6 72.9 L199.7 72.4 L200.4 72.2 L202.4 71.8 L204.4 71.5 L206.4 71.4 L206.5 71.4 L208.4 71.6 L210.4 71.9 L212.3 72.3 L213.4 72.4 L214.3 72.5 L216.3 72.6 L217.8 72.6 L218.3 72.5 L220.0 71.9 L220.2 71.8 L222.1 71.2 L224.0 70.6 L225.8 69.9 L227.7 69.3 L229.6 68.6 L231.1 68.0 L231.5 67.9 L233.3 67.1 L235.0 66.4 L235.2 66.3 L236.9 65.4 L238.7 64.5 L239.5 64.1 L240.5 63.6 L242.3 62.8 L243.8 62.0 L244.0 61.8 L245.5 60.5 L246.4 59.7 L247.0 59.2 L248.5 57.9 L250.0 56.7 L250.1 56.6 L251.7 55.5 L253.4 54.4 L255.1 53.3 L256.8 52.2 L258.5 51.2 L260.0 50.2 L260.1 50.1 L261.9 49.1 L263.6 48.0 L265.3 47.0 L267.0 46.0 L268.6 44.8 L269.3 44.3 L270.1 43.6 L271.5 42.2 L272.9 40.7 L274.3 39.2 L274.4 39.1 L275.7 37.8 L277.2 36.5 L278.6 35.1 L280.0 33.7 L280.0 33.7 L281.3 32.1 L282.5 30.5 L283.0 30.0 L283.9 29.1 L285.5 27.9 L286.0 27.5 L287.1 26.7 L288.8 25.6 L289.7 25.1 L290.5 24.7 L292.4 23.9 L294.2 23.2 L295.6 22.7 L296.1 22.5 L297.9 21.7 L299.7 20.8 L301.4 20.2 L301.6 20.1 L303.5 19.5 L305.4 19.0 L306.4 18.7 L307.4 18.5 L309.3 18.0 L310.0 17.8 L311.2 17.4 L313.1 16.8 L314.8 16.3 L315.0 16.2 L317.0 15.8 L318.9 15.3 L320.9 14.9 L322.8 14.6 L324.7 14.3 L324.8 14.3 L326.8 14.0 L328.8 13.8 L330.7 13.6 L332.7 13.5 L334.5 13.3 L334.7 13.3 L336.7 13.1 L338.7 12.9 L340.7 12.7 L342.7 12.6 L344.7 12.4 L345.0 12.4 L346.7 12.3 L348.6 12.2 L350.6 12.0 L352.6 11.9 L354.6 11.8 L356.6 11.7 L358.6 11.6 L358.8 11.6 L360.6 11.5 L362.6 11.4 L364.6 11.3 L366.6 11.2 L368.6 11.1 L370.6 11.0 L372.5 10.9 L372.6 10.9 L374.6 10.8 L376.5 10.8 L378.5 10.7 L380.5 10.7 L382.5 10.6 L384.5 10.5 L386.3 10.5 L386.5 10.5 L388.5 10.4 L390.5 10.4 L392.5 10.3 L394.5 10.3" fill="none" stroke="#ff0000" stroke-width="1.35" stroke-linejoin="round"/>
<path d="M90.9 230.0 L91.2 228.0 L91.6 226.1 L91.9 224.1 L92.2 222.1 L92.5 220.2 L92.8 218.6 L92.9 218.2 L93.2 216.2 L93.5 214.3 L93.8 212.3 L94.1 210.3 L94.5 208.4 L94.8 206.8 L94.9 206.4 L95.4 204.5 L96.0 202.6 L96.7 200.9 L96.8 200.8 L98.0 198.9 L98.5 198.7 L99.4 199.4 L100.2 200.9 L100.4 201.3 L101.1 203.2 L101.7 205.1 L102.1 206.8 L102.2 207.1 L102.6 209.0 L103.0 211.0 L103.3 212.9 L103.7 214.9 L104.1 216.6 L104.2 216.8 L104.7 218.7 L105.2 220.5 L105.2 220.7 L105.7 223.0 L106.1 225.5 L106.6 226.9 L106.8 227.0 L107.4 225.9 L107.8 225.0 L108.3 223.9 L109.3 222.2 L110.1 220.4 L110.3 220.0 L110.9 218.5 L111.5 216.7 L112.1 214.8 L112.7 212.8 L113.3 210.9 L113.5 210.3 L113.9 209.1 L114.6 207.1 L115.3 205.3 L116.0 203.4 L116.3 202.9 L117.0 201.8 L118.1 200.2 L119.4 198.6 L120.8 197.1 L122.1 195.6 L122.7 194.7 L123.2 194.0 L124.4 192.3 L125.5 190.7 L126.6 189.0 L127.7 187.3 L128.6 185.8 L128.7 185.6 L129.6 183.9 L130.5 182.1 L131.3 180.3 L132.2 178.5 L132.5 178.0 L133.2 176.8 L134.3 175.1 L135.5 173.5 L136.6 171.8 L137.8 170.2 L138.8 168.5 L139.3 167.7 L139.8 166.8 L140.7 165.0 L141.5 163.2 L142.3 161.4 L143.1 159.6 L143.9 157.7 L144.7 155.9 L145.6 154.1 L145.7 153.9 L146.5 152.3 L147.5 150.6 L148.5 148.9 L149.4 147.1 L149.7 146.5 L150.3 145.3 L151.1 143.5 L151.9 141.6 L152.7 139.8 L153.5 138.0 L154.4 136.2 L154.7 135.7 L155.4 134.5 L156.5 132.9 L157.7 131.3 L159.0 129.7 L159.7 128.8 L160.2 128.2 L161.6 126.7 L163.0 125.3 L164.1 123.9 L164.2 123.7 L165.2 122.0 L166.1 120.2 L166.2 120.0 L167.1 118.5 L168.2 116.9 L169.4 115.3 L170.6 113.7 L171.8 112.0 L172.7 110.7 L172.9 110.4 L174.0 108.7 L175.1 107.1 L176.2 105.4 L177.3 103.7 L178.4 102.1 L179.1 101.3 L179.7 100.6 L181.1 99.1 L182.5 97.7 L184.0 96.4 L184.5 95.9 L185.5 95.1 L187.0 93.8 L188.6 92.7 L188.9 92.5 L190.3 91.6 L192.1 90.7 L192.3 90.5 L193.7 89.5 L195.2 88.3 L196.8 87.0 L198.3 85.7 L199.7 84.6 L199.9 84.5 L201.5 83.3 L203.2 82.2 L204.8 81.1 L206.5 80.1 L208.2 78.9 L208.5 78.7 L209.8 77.8 L211.4 76.7 L213.0 75.5 L213.9 74.8 L214.6 74.2 L216.2 73.0 L217.6 71.6 L218.8 70.4 L219.0 70.2 L220.0 68.5 L221.1 66.8 L221.3 66.5 L222.4 65.4 L223.8 64.0 L225.4 62.8 L227.0 61.6 L228.7 60.4 L230.3 59.2 L231.1 58.7 L231.9 58.1 L233.6 57.0 L235.3 55.9 L237.0 54.9 L238.7 53.9 L240.4 52.9 L241.4 52.3 L242.1 51.9 L243.9 50.9 L245.7 50.0 L247.4 49.0 L247.8 48.8 L249.1 48.0 L250.8 46.9 L252.4 45.8 L254.1 44.7 L255.7 43.6 L256.7 43.0 L257.4 42.6 L259.2 41.6 L261.0 40.7 L262.3 40.0 L262.7 39.8 L264.5 38.9 L266.3 38.0 L268.1 37.1 L268.2 37.0 L269.8 36.2 L271.6 35.3 L273.4 34.3 L273.4 34.3 L275.1 33.3 L276.8 32.3 L278.5 31.2 L279.3 30.7 L280.2 30.2 L281.9 29.1 L282.8 28.6 L283.6 28.2 L285.4 27.2 L287.1 26.3 L288.9 25.5 L289.7 25.1 L290.7 24.6 L292.6 23.9 L294.4 23.2 L295.6 22.7 L296.3 22.4 L298.1 21.6 L299.9 20.8 L301.4 20.2 L301.8 20.1 L303.7 19.5 L305.6 18.9 L306.4 18.7 L307.5 18.4 L309.5 17.9 L310.0 17.8 L311.4 17.4 L313.3 16.8 L314.8 16.3 L315.2 16.2 L317.1 15.7 L319.0 15.3 L321.0 14.9 L323.0 14.6 L324.7 14.3 L324.9 14.3 L326.9 14.0 L328.9 13.8 L330.9 13.6 L332.9 13.4 L334.5 13.3 L334.8 13.3 L336.8 13.1 L338.8 12.9 L340.8 12.7 L342.8 12.6 L344.8 12.4 L345.0 12.4 L346.8 12.3 L348.7 12.2 L350.7 12.0 L352.7 11.9 L354.7 11.8 L356.7 11.7 L358.7 11.6 L358.8 11.6 L360.7 11.5 L362.7 11.4 L364.6 11.3 L366.6 11.2 L368.6 11.1 L370.6 11.0 L372.5 10.9 L372.6 10.9 L374.6 10.8 L376.6 10.8 L378.6 10.7 L380.6 10.6 L382.6 10.6 L384.5 10.5 L386.3 10.5 L386.5 10.5 L388.5 10.4 L390.5 10.4 L392.5 10.3 L394.5 10.3" fill="none" stroke="#0000ff" stroke-width="1.5" stroke-dasharray="3.8 2.5" stroke-dashoffset="1"/>
<path d="M69.0 230.0 L69.6 228.1 L69.6 228.0 L70.2 226.2 L70.6 225.3 L71.2 224.6 L71.9 224.2 L72.8 224.7 L73.3 225.2 L74.1 226.3 L74.6 227.4 L74.8 228.1 L75.2 230.0" fill="none" stroke="#0000ff" stroke-width="1.4" stroke-dasharray="3.6 1.2 3.6 9" stroke-dashoffset="-1.2"/>
<line x1="394.80" y1="8.30" x2="386.20" y2="8.30" stroke="#000" stroke-width="1.25" opacity="0.72"/>
<line x1="394.80" y1="27.65" x2="390.30" y2="27.65" stroke="#000" stroke-width="1.25" opacity="0.72"/>
<line x1="394.80" y1="22.78" x2="390.30" y2="22.78" stroke="#000" stroke-width="1.25" opacity="0.72"/>
<line x1="394.80" y1="19.32" x2="390.30" y2="19.32" stroke="#000" stroke-width="1.25" opacity="0.72"/>
<line x1="394.80" y1="16.63" x2="390.30" y2="16.63" stroke="#000" stroke-width="1.25" opacity="0.72"/>
<line x1="394.80" y1="14.44" x2="390.30" y2="14.44" stroke="#000" stroke-width="1.25" opacity="0.72"/>
<line x1="394.80" y1="12.59" x2="390.30" y2="12.59" stroke="#000" stroke-width="1.25" opacity="0.72"/>
<line x1="394.80" y1="10.98" x2="390.30" y2="10.98" stroke="#000" stroke-width="1.25" opacity="0.72"/>
<line x1="394.80" y1="9.57" x2="390.30" y2="9.57" stroke="#000" stroke-width="1.25" opacity="0.72"/>
<line x1="394.80" y1="35.99" x2="386.20" y2="35.99" stroke="#000" stroke-width="1.25" opacity="0.72"/>
<line x1="394.80" y1="55.34" x2="390.30" y2="55.34" stroke="#000" stroke-width="1.25" opacity="0.72"/>
<line x1="394.80" y1="50.46" x2="390.30" y2="50.46" stroke="#000" stroke-width="1.25" opacity="0.72"/>
<line x1="394.80" y1="47.01" x2="390.30" y2="47.01" stroke="#000" stroke-width="1.25" opacity="0.72"/>
<line x1="394.80" y1="44.32" x2="390.30" y2="44.32" stroke="#000" stroke-width="1.25" opacity="0.72"/>
<line x1="394.80" y1="42.13" x2="390.30" y2="42.13" stroke="#000" stroke-width="1.25" opacity="0.72"/>
<line x1="394.80" y1="40.28" x2="390.30" y2="40.28" stroke="#000" stroke-width="1.25" opacity="0.72"/>
<line x1="394.80" y1="38.67" x2="390.30" y2="38.67" stroke="#000" stroke-width="1.25" opacity="0.72"/>
<line x1="394.80" y1="37.25" x2="390.30" y2="37.25" stroke="#000" stroke-width="1.25" opacity="0.72"/>
<line x1="394.80" y1="63.67" x2="386.20" y2="63.67" stroke="#000" stroke-width="1.25" opacity="0.72"/>
<line x1="394.80" y1="83.03" x2="390.30" y2="83.03" stroke="#000" stroke-width="1.25" opacity="0.72"/>
<line x1="394.80" y1="78.15" x2="390.30" y2="78.15" stroke="#000" stroke-width="1.25" opacity="0.72"/>
<line x1="394.80" y1="74.69" x2="390.30" y2="74.69" stroke="#000" stroke-width="1.25" opacity="0.72"/>
<line x1="394.80" y1="72.01" x2="390.30" y2="72.01" stroke="#000" stroke-width="1.25" opacity="0.72"/>
<line x1="394.80" y1="69.82" x2="390.30" y2="69.82" stroke="#000" stroke-width="1.25" opacity="0.72"/>
<line x1="394.80" y1="67.96" x2="390.30" y2="67.96" stroke="#000" stroke-width="1.25" opacity="0.72"/>
<line x1="394.80" y1="66.36" x2="390.30" y2="66.36" stroke="#000" stroke-width="1.25" opacity="0.72"/>
<line x1="394.80" y1="64.94" x2="390.30" y2="64.94" stroke="#000" stroke-width="1.25" opacity="0.72"/>
<line x1="394.80" y1="91.36" x2="386.20" y2="91.36" stroke="#000" stroke-width="1.25" opacity="0.72"/>
<line x1="394.80" y1="110.72" x2="390.30" y2="110.72" stroke="#000" stroke-width="1.25" opacity="0.72"/>
<line x1="394.80" y1="105.84" x2="390.30" y2="105.84" stroke="#000" stroke-width="1.25" opacity="0.72"/>
<line x1="394.80" y1="102.38" x2="390.30" y2="102.38" stroke="#000" stroke-width="1.25" opacity="0.72"/>
<line x1="394.80" y1="99.70" x2="390.30" y2="99.70" stroke="#000" stroke-width="1.25" opacity="0.72"/>
<line x1="394.80" y1="97.50" x2="390.30" y2="97.50" stroke="#000" stroke-width="1.25" opacity="0.72"/>
<line x1="394.80" y1="95.65" x2="390.30" y2="95.65" stroke="#000" stroke-width="1.25" opacity="0.72"/>
<line x1="394.80" y1="94.05" x2="390.30" y2="94.05" stroke="#000" stroke-width="1.25" opacity="0.72"/>
<line x1="394.80" y1="92.63" x2="390.30" y2="92.63" stroke="#000" stroke-width="1.25" opacity="0.72"/>
<line x1="394.80" y1="119.05" x2="386.20" y2="119.05" stroke="#000" stroke-width="1.25" opacity="0.72"/>
<line x1="394.80" y1="138.40" x2="390.30" y2="138.40" stroke="#000" stroke-width="1.25" opacity="0.72"/>
<line x1="394.80" y1="133.53" x2="390.30" y2="133.53" stroke="#000" stroke-width="1.25" opacity="0.72"/>
<line x1="394.80" y1="130.07" x2="390.30" y2="130.07" stroke="#000" stroke-width="1.25" opacity="0.72"/>
<line x1="394.80" y1="127.38" x2="390.30" y2="127.38" stroke="#000" stroke-width="1.25" opacity="0.72"/>
<line x1="394.80" y1="125.19" x2="390.30" y2="125.19" stroke="#000" stroke-width="1.25" opacity="0.72"/>
<line x1="394.80" y1="123.34" x2="390.30" y2="123.34" stroke="#000" stroke-width="1.25" opacity="0.72"/>
<line x1="394.80" y1="121.73" x2="390.30" y2="121.73" stroke="#000" stroke-width="1.25" opacity="0.72"/>
<line x1="394.80" y1="120.32" x2="390.30" y2="120.32" stroke="#000" stroke-width="1.25" opacity="0.72"/>
<line x1="394.80" y1="146.74" x2="386.20" y2="146.74" stroke="#000" stroke-width="1.25" opacity="0.72"/>
<line x1="394.80" y1="166.09" x2="390.30" y2="166.09" stroke="#000" stroke-width="1.25" opacity="0.72"/>
<line x1="394.80" y1="161.21" x2="390.30" y2="161.21" stroke="#000" stroke-width="1.25" opacity="0.72"/>
<line x1="394.80" y1="157.76" x2="390.30" y2="157.76" stroke="#000" stroke-width="1.25" opacity="0.72"/>
<line x1="394.80" y1="155.07" x2="390.30" y2="155.07" stroke="#000" stroke-width="1.25" opacity="0.72"/>
<line x1="394.80" y1="152.88" x2="390.30" y2="152.88" stroke="#000" stroke-width="1.25" opacity="0.72"/>
<line x1="394.80" y1="151.03" x2="390.30" y2="151.03" stroke="#000" stroke-width="1.25" opacity="0.72"/>
<line x1="394.80" y1="149.42" x2="390.30" y2="149.42" stroke="#000" stroke-width="1.25" opacity="0.72"/>
<line x1="394.80" y1="148.00" x2="390.30" y2="148.00" stroke="#000" stroke-width="1.25" opacity="0.72"/>
<line x1="394.80" y1="174.43" x2="386.20" y2="174.43" stroke="#000" stroke-width="1.25" opacity="0.72"/>
<line x1="394.80" y1="193.78" x2="390.30" y2="193.78" stroke="#000" stroke-width="1.25" opacity="0.72"/>
<line x1="394.80" y1="188.90" x2="390.30" y2="188.90" stroke="#000" stroke-width="1.25" opacity="0.72"/>
<line x1="394.80" y1="185.44" x2="390.30" y2="185.44" stroke="#000" stroke-width="1.25" opacity="0.72"/>
<line x1="394.80" y1="182.76" x2="390.30" y2="182.76" stroke="#000" stroke-width="1.25" opacity="0.72"/>
<line x1="394.80" y1="180.57" x2="390.30" y2="180.57" stroke="#000" stroke-width="1.25" opacity="0.72"/>
<line x1="394.80" y1="178.71" x2="390.30" y2="178.71" stroke="#000" stroke-width="1.25" opacity="0.72"/>
<line x1="394.80" y1="177.11" x2="390.30" y2="177.11" stroke="#000" stroke-width="1.25" opacity="0.72"/>
<line x1="394.80" y1="175.69" x2="390.30" y2="175.69" stroke="#000" stroke-width="1.25" opacity="0.72"/>
<line x1="394.80" y1="202.11" x2="386.20" y2="202.11" stroke="#000" stroke-width="1.25" opacity="0.72"/>
<line x1="394.80" y1="221.47" x2="390.30" y2="221.47" stroke="#000" stroke-width="1.25" opacity="0.72"/>
<line x1="394.80" y1="216.59" x2="390.30" y2="216.59" stroke="#000" stroke-width="1.25" opacity="0.72"/>
<line x1="394.80" y1="213.13" x2="390.30" y2="213.13" stroke="#000" stroke-width="1.25" opacity="0.72"/>
<line x1="394.80" y1="210.45" x2="390.30" y2="210.45" stroke="#000" stroke-width="1.25" opacity="0.72"/>
<line x1="394.80" y1="208.25" x2="390.30" y2="208.25" stroke="#000" stroke-width="1.25" opacity="0.72"/>
<line x1="394.80" y1="206.40" x2="390.30" y2="206.40" stroke="#000" stroke-width="1.25" opacity="0.72"/>
<line x1="394.80" y1="204.80" x2="390.30" y2="204.80" stroke="#000" stroke-width="1.25" opacity="0.72"/>
<line x1="394.80" y1="203.38" x2="390.30" y2="203.38" stroke="#000" stroke-width="1.25" opacity="0.72"/>
<line x1="394.80" y1="229.80" x2="386.20" y2="229.80" stroke="#000" stroke-width="1.25" opacity="0.72"/>
<line x1="34.40" y1="8.05" x2="395.60" y2="8.05" stroke="#000" stroke-width="1.2"/>
<line x1="394.90" y1="8.00" x2="394.90" y2="230.30" stroke="#000" stroke-width="1.5"/>
<line x1="269.30" y1="44.30" x2="320.20" y2="95.60" stroke="#ff0000" stroke-width="1.15"/>
<path d="M281.6 46.8 L269.3 44.3 L271.8 56.6" fill="none" stroke="#e80800" stroke-width="0.9"/>
<line x1="59.80" y1="148.20" x2="96.20" y2="148.20" stroke="#ff0000" stroke-width="1.3"/>
<line x1="59.8" y1="170.4" x2="94.5" y2="170.4" stroke="#0000ff" stroke-width="1.3" stroke-dasharray="4 2.1"/>
<path d="M0 12.5 C1.5 11 3 9.5 4 10.5 C5 11.5 4.5 13 3.5 13.2" fill="none" stroke="#222" stroke-width="1.4"/>
<text x="4.30" y="40" font-size="16.5" fill="#000" font-style="italic">10</text>
<text x="21.70" y="30" font-size="12.3" fill="#000" font-style="italic">-1</text>
<text x="4.30" y="68" font-size="16.5" fill="#000" font-style="italic">10</text>
<text x="21.70" y="58" font-size="12.3" fill="#000" font-style="italic">-2</text>
<text x="4.30" y="95" font-size="16.5" fill="#000" font-style="italic">10</text>
<text x="21.70" y="85" font-size="12.3" fill="#000" font-style="italic">-3</text>
<text x="4.30" y="123" font-size="16.5" fill="#000" font-style="italic">10</text>
<text x="21.70" y="113" font-size="12.3" fill="#000" font-style="italic">-4</text>
<text x="4.30" y="150" font-size="16.5" fill="#000" font-style="italic">10</text>
<text x="21.70" y="140" font-size="12.3" fill="#000" font-style="italic">-5</text>
<text x="4.30" y="178" font-size="16.5" fill="#000" font-style="italic">10</text>
<text x="21.70" y="168" font-size="12.3" fill="#000" font-style="italic">-6</text>
<text x="4.30" y="206" font-size="16.5" fill="#000" font-style="italic">10</text>
<text x="21.70" y="196" font-size="12.3" fill="#000" font-style="italic">-7</text>
<text x="4.30" y="234" font-size="16.5" fill="#000" font-style="italic">10</text>
<text x="21.70" y="224" font-size="12.3" fill="#000" font-style="italic">-8</text>
<text x="35.30" y="244" font-size="16.5" fill="#000" text-anchor="middle" font-style="italic">90</text>
<text x="71.30" y="244" font-size="16.5" fill="#000" text-anchor="middle" font-style="italic">92</text>
<text x="107.30" y="244" font-size="16.5" fill="#000" text-anchor="middle" font-style="italic">94</text>
<text x="143.30" y="244" font-size="16.5" fill="#000" text-anchor="middle" font-style="italic">96</text>
<text x="179.30" y="244" font-size="16.5" fill="#000" text-anchor="middle" font-style="italic">98</text>
<text x="215.30" y="244" font-size="16.5" fill="#000" text-anchor="middle" font-style="italic">100</text>
<text x="251.30" y="244" font-size="16.5" fill="#000" text-anchor="middle" font-style="italic">102</text>
<text x="287.30" y="244" font-size="16.5" fill="#000" text-anchor="middle" font-style="italic">104</text>
<text x="323.30" y="244" font-size="16.5" fill="#000" text-anchor="middle" font-style="italic">106</text>
<text x="359.30" y="244" font-size="16.5" fill="#000" text-anchor="middle" font-style="italic">108</text>
<text x="395.30" y="244" font-size="16.5" fill="#000" text-anchor="middle" font-style="italic">110</text>
<text transform="translate(107.40,41) scale(0.9390,1)" font-size="16.51" fill="#000">LEP 196</text>
<text transform="translate(107.00,154) scale(0.9709,1)" font-size="17.72" fill="#ff0000">Observed</text>
<text transform="translate(107.00,176) scale(0.9709,1)" font-size="17.72" fill="#0000ff">Expected</text>
<text transform="translate(273.20,114) scale(0.9709,1)" font-size="17.77" fill="#ff0000">Observed Limit</text>
<text x="302.50" y="266" font-size="18.2" fill="#000" font-style="italic">m</text>
<text x="316.20" y="273" font-size="13.5" fill="#000" font-style="italic">H</text>
<text x="326.20" y="266" font-size="18.2" fill="#000" font-style="italic">(</text>
<text x="332.60" y="266" font-size="18.2" fill="#000" font-style="italic" letter-spacing="0.75">GeV/c</text>
<text x="381.80" y="257" font-size="13.5" fill="#000" font-style="italic">2</text>
<text x="389.60" y="266" font-size="18.2" fill="#000" font-style="italic">)</text>
</svg>
</div>
</body></html>
